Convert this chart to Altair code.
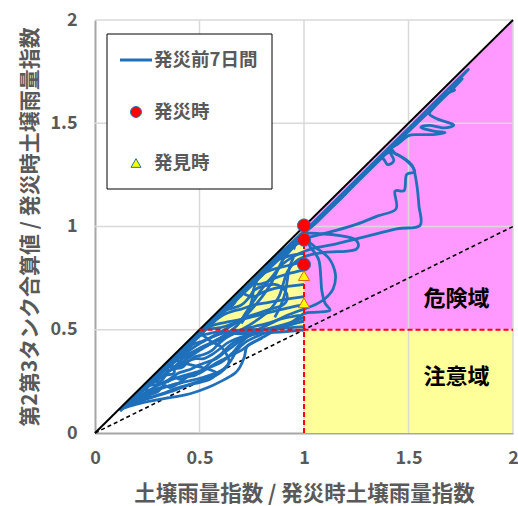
import altair as alt
import pandas as pd

FONT = "Noto Sans CJK JP"
GRAY = "#595959"
BLUE = "#1F70BA"

# ---- axis ticks ----
tick_values = [0, 0.5, 1, 1.5, 2]
grid_values = [0.5, 1, 1.5, 2]

# ---- reference lines ----
diag_x = [0, 2]
diag_y = [0, 2]
half_x = [0, 2]
half_y = [0, 1]

# ---- zones ----
danger_x = [1, 2]
danger_top = [1, 2]
danger_bottom = [0.5, 0.5]
caution_tri_x = [0.5, 1]
caution_tri_top = [0.5, 1]
caution_tri_bottom = [0.5, 0.5]

# ---- events ----
disaster_y = [1.005, 0.936, 0.816]
found_y = [0.762, 0.63]

# ---- 7-day trajectories (x = SWI ratio, y = tank2+3 ratio) ----
path_01 = [(0.12,0.11),(0.3,0.28),(0.5,0.475),(0.7,0.67),(0.9,0.865),(1.0,0.965),(1.2,1.16),(1.36,1.32),
           (1.41,1.36),(1.47,1.335),(1.52,1.29),(1.54,1.2),(1.55,1.1),(1.555,1.005),(1.45,0.99),(1.35,0.965),
           (1.25,0.94),(1.15,0.915),(1.05,0.895),(0.98,0.87),(0.9,0.82),(0.85,0.76),(0.8,0.70),(0.76,0.64),
           (0.72,0.58),(0.68,0.52),(0.6,0.46),(0.5,0.40),(0.4,0.33),(0.3,0.26),(0.2,0.18)]
path_02 = [(0.15,0.14),(0.4,0.38),(0.8,0.775),(1.1,1.07),(1.38,1.35),(1.44,1.35),(1.5,1.31),(1.53,1.265),
           (1.49,1.25),(1.48,1.175),(1.435,1.17),(1.44,1.085),(1.35,1.05),(1.25,1.01),(1.15,0.98),(1.05,0.955),
           (1.0,0.94),(0.95,0.90),(0.9,0.84),(0.87,0.78),(0.84,0.72),(0.8,0.66),(0.75,0.60),(0.7,0.55),
           (0.62,0.50),(0.55,0.46),(0.48,0.42),(0.4,0.36),(0.32,0.29),(0.25,0.23)]
path_03 = [(0.2,0.19),(0.6,0.58),(1.0,0.975),(1.4,1.375),(1.6,1.575),(1.78,1.755),(1.74,1.71),(1.70,1.67),
           (1.72,1.66),(1.68,1.64),(1.62,1.575),(1.60,1.545),(1.64,1.52),(1.70,1.50),(1.715,1.488),(1.67,1.478),
           (1.60,1.49),(1.56,1.48),(1.62,1.462),(1.675,1.455),(1.62,1.445),(1.55,1.445),(1.50,1.44),(1.45,1.40),
           (1.41,1.37),(1.43,1.32),(1.40,1.30),(1.37,1.33),(1.30,1.27),(1.2,1.16),(1.12,1.08),(1.05,1.01),(1.0,0.975)]
path_04 = [(0.25,0.24),(0.6,0.585),(0.95,0.93),(1.0,0.965),(1.08,0.965),(1.18,0.955),(1.24,0.94),(1.26,0.915),
           (1.25,0.89),(1.2,0.88),(1.1,0.875),(1.02,0.86),(0.96,0.83),(0.92,0.78),(0.90,0.72),(0.88,0.66),
           (0.84,0.60),(0.78,0.55),(0.7,0.50),(0.62,0.46),(0.55,0.43),(0.48,0.40),(0.42,0.37),(0.38,0.355)]
path_05 = [(0.3,0.29),(0.6,0.585),(0.9,0.875),(1.0,0.93),(1.06,0.895),(1.12,0.845),(1.15,0.77),(1.14,0.70),
           (1.10,0.65),(1.05,0.62),(1.0,0.60),(0.92,0.57),(0.84,0.53),(0.76,0.49),(0.70,0.44),(0.66,0.39),
           (0.6,0.34),(0.5,0.30),(0.4,0.27),(0.3,0.23),(0.2,0.17),(0.14,0.13)]
path_06 = [(0.35,0.335),(0.7,0.68),(0.98,0.95),(1.03,0.90),(1.07,0.84),(1.08,0.76),(1.085,0.69),(1.10,0.63),
           (1.124,0.594),(1.06,0.585),(1.0,0.578),(0.933,0.53),(0.87,0.50),(0.805,0.465),(0.76,0.44),(0.726,0.417),
           (0.715,0.37),(0.694,0.32),(0.67,0.29),(0.614,0.256),(0.54,0.22),(0.455,0.19),(0.38,0.175),(0.295,0.16),
           (0.2,0.14),(0.12,0.115)]
path_07 = [(0.15,0.14),(0.22,0.21),(0.3,0.285),(0.42,0.40),(0.5,0.48),(0.52,0.47),(0.56,0.44),(0.6,0.42),
           (0.63,0.38),(0.64,0.34),(0.6,0.30),(0.52,0.27),(0.44,0.25),(0.36,0.23),(0.28,0.20),(0.2,0.16),(0.14,0.135)]
path_08 = [(0.18,0.17),(0.26,0.25),(0.34,0.325),(0.38,0.35),(0.42,0.34),(0.46,0.33),(0.5,0.32),(0.54,0.31),
           (0.58,0.29),(0.55,0.26),(0.48,0.24),(0.40,0.22),(0.32,0.19),(0.24,0.165),(0.18,0.15)]
path_09 = [(0.2,0.19),(0.24,0.21),(0.26,0.19),(0.3,0.20),(0.33,0.23),(0.36,0.22),(0.40,0.24),(0.44,0.27),
           (0.48,0.28),(0.52,0.31),(0.56,0.35),(0.60,0.38),(0.64,0.42),(0.68,0.45),(0.72,0.47),(0.78,0.49),
           (0.85,0.51),(0.92,0.53),(1.0,0.56)]
path_10 = [(0.25,0.24),(0.28,0.25),(0.32,0.27),(0.35,0.30),(0.38,0.31),(0.42,0.32),(0.45,0.35),(0.48,0.37),
           (0.52,0.38),(0.56,0.40),(0.60,0.44),(0.64,0.47),(0.68,0.49),(0.74,0.51),(0.82,0.53),(0.9,0.555),(0.98,0.57)]
path_11 = [(0.3,0.29),(0.33,0.31),(0.36,0.305),(0.39,0.33),(0.42,0.36),(0.46,0.38),(0.5,0.41),(0.54,0.43),
           (0.58,0.45),(0.62,0.47),(0.66,0.48),(0.72,0.49),(0.8,0.50),(0.9,0.52),(1.0,0.54)]
path_12 = [(0.38,0.37),(0.41,0.38),(0.44,0.40),(0.47,0.43),(0.5,0.44),(0.55,0.46),(0.6,0.48),(0.66,0.495),
           (0.74,0.50),(0.84,0.505),(0.94,0.51),(1.0,0.515)]
path_13 = [(0.44,0.43),(0.47,0.445),(0.5,0.47),(0.54,0.48),(0.6,0.49),(0.7,0.48),(0.8,0.485),(0.9,0.49),(1.0,0.50)]
path_14 = [(0.13,0.12),(0.2,0.15),(0.28,0.175),(0.36,0.20),(0.44,0.23),(0.52,0.26),(0.58,0.28),(0.62,0.31),
           (0.65,0.35),(0.68,0.40),(0.72,0.44),(0.78,0.47),(0.86,0.50),(0.94,0.525),(1.0,0.545)]
path_15 = [(0.14,0.13),(0.17,0.15),(0.2,0.155),(0.24,0.17),(0.27,0.19),(0.25,0.21),(0.22,0.205),(0.2,0.185),(0.18,0.17)]
path_16 = [(0.22,0.21),(0.26,0.23),(0.3,0.235),(0.34,0.25),(0.37,0.27),(0.4,0.29),(0.43,0.30),(0.46,0.31),
           (0.5,0.33),(0.54,0.345),(0.58,0.36),(0.62,0.39),(0.66,0.42),(0.7,0.45),(0.76,0.48)]
path_17 = [(0.5,0.49),(0.56,0.52),(0.62,0.535),(0.7,0.55),(0.78,0.57),(0.86,0.59),(0.94,0.61),(1.0,0.62)]
path_18 = [(0.54,0.53),(0.58,0.55),(0.62,0.575),(0.66,0.59),(0.7,0.60),(0.76,0.62),(0.82,0.63),(0.9,0.645),(1.0,0.66)]
path_19 = [(0.58,0.57),(0.62,0.60),(0.66,0.62),(0.68,0.65),(0.70,0.68),(0.72,0.67),(0.76,0.66),(0.80,0.68),
           (0.86,0.70),(0.92,0.71),(1.0,0.72)]
path_20 = [(0.64,0.63),(0.68,0.66),(0.72,0.70),(0.75,0.73),(0.78,0.72),(0.82,0.73),(0.86,0.75),(0.92,0.77),(1.0,0.79)]
path_21 = [(0.7,0.69),(0.74,0.72),(0.78,0.76),(0.82,0.78),(0.86,0.795),(0.92,0.81),(1.0,0.83)]
path_22 = [(0.76,0.75),(0.8,0.78),(0.84,0.82),(0.88,0.84),(0.94,0.86),(1.0,0.87)]
path_23 = [(0.82,0.81),(0.86,0.85),(0.9,0.88),(0.95,0.91),(1.0,0.925)]
path_24 = [(0.7,0.53),(0.73,0.58),(0.75,0.64),(0.76,0.70),(0.78,0.75),(0.80,0.78)]
path_25 = [(0.86,0.56),(0.89,0.62),(0.91,0.68),(0.92,0.74),(0.93,0.80),(0.95,0.85)]
path_26 = [(0.6,0.59),(0.64,0.60),(0.7,0.62),(0.74,0.66),(0.76,0.69),(0.8,0.71),(0.86,0.72),(0.9,0.70),
           (0.92,0.66),(0.9,0.62),(0.84,0.60),(0.78,0.58),(0.72,0.56),(0.66,0.53),(0.6,0.51),(0.54,0.505)]
path_27 = [(0.88,0.87),(0.92,0.90),(0.96,0.93),(1.0,0.95)]
path_28 = [(0.12,0.105),(0.4,0.375),(0.8,0.77),(1.2,1.165),(1.5,1.46),(1.7,1.655),(1.76,1.72)]
path_29 = [(0.16,0.145),(0.5,0.47),(0.9,0.86),(0.95,0.89)]
path_30 = [(0.28,0.27),(0.31,0.24),(0.35,0.25),(0.38,0.27),(0.41,0.26),(0.45,0.28),(0.5,0.29),(0.55,0.32),
           (0.6,0.35),(0.64,0.37),(0.7,0.40),(0.74,0.43),(0.8,0.46)]
path_31 = [(0.34,0.33),(0.36,0.32),(0.4,0.32),(0.44,0.345),(0.48,0.36),(0.52,0.36),(0.56,0.38),(0.6,0.41),
           (0.64,0.44),(0.7,0.465),(0.78,0.48)]
path_32 = [(0.16,0.155),(0.19,0.165),(0.22,0.18),(0.26,0.20),(0.3,0.215),(0.34,0.225),(0.38,0.235),(0.42,0.245)]
path_33 = [(0.28,0.27),(0.29,0.25),(0.32,0.255),(0.34,0.28),(0.37,0.285),(0.38,0.30),(0.36,0.35)]

paths = [path_01, path_02, path_03, path_04, path_05, path_06, path_07, path_08, path_09,
         path_10, path_11, path_12, path_13, path_14, path_15, path_16, path_17, path_18,
         path_19, path_20, path_21, path_22, path_23, path_24, path_25, path_26, path_27,
         path_28, path_29, path_30, path_31, path_32, path_33]

rows = []
for i, p in enumerate(paths):
    for j, (px, py) in enumerate(p):
        rows.append({"series": i, "order": j, "x": px, "y": py})
traj = pd.DataFrame(rows)

# ---- legend ----
legend_labels = ["発災前7日間", "発災時", "発見時"]
legend_rows = [40, 92, 143]

W, H = 418, 413
xs = alt.Scale(domain=[0, 2], nice=False, zero=False)
ys = alt.Scale(domain=[0, 2], nice=False, zero=False)

xaxis = alt.Axis(values=tick_values, grid=False, ticks=False, format="~g",
                 labelFont=FONT, labelFontSize=18, labelFontWeight="bold", labelColor=GRAY,
                 labelPadding=16, labelFlush=False,
                 title="土壌雨量指数 / 発災時土壌雨量指数", titleFont=FONT, titleFontSize=21.5,
                 titleFontWeight="bold", titleColor=GRAY, titlePadding=16,
                 domainColor="#A6A6A6", domainWidth=2)
yaxis = alt.Axis(values=tick_values, grid=False, ticks=False, format="~g",
                 labelFont=FONT, labelFontSize=18, labelFontWeight="bold", labelColor=GRAY,
                 labelPadding=18, labelFlush=False,
                 title="第2第3タンク合算値 / 発災時土壌雨量指数", titleFont=FONT, titleFontSize=21,
                 titleFontWeight="bold", titleColor=GRAY, titlePadding=9,
                 domainColor="#A6A6A6", domainWidth=2)

caution_rect = alt.Chart(pd.DataFrame({"x": [1], "x2": [2], "y": [0], "y2": [0.5]})).mark_rect(
    color="#FFFF99").encode(
    x=alt.X("x:Q", scale=xs, axis=xaxis), x2="x2:Q",
    y=alt.Y("y:Q", scale=ys, axis=yaxis), y2="y2:Q")

danger = alt.Chart(pd.DataFrame({"x": danger_x, "y": danger_top, "y2": danger_bottom})).mark_area(
    color="#FF99FF", opacity=1).encode(x=alt.X("x:Q", scale=xs), y=alt.Y("y:Q", scale=ys), y2="y2:Q")

caution_tri = alt.Chart(pd.DataFrame({"x": caution_tri_x, "y": caution_tri_top, "y2": caution_tri_bottom})).mark_area(
    color="#FFFF99", opacity=1).encode(x=alt.X("x:Q", scale=xs), y=alt.Y("y:Q", scale=ys), y2="y2:Q")

vgrid = alt.Chart(pd.DataFrame({"v": grid_values})).mark_rule(color="#D9D9D9", strokeWidth=1.5).encode(
    x=alt.X("v:Q", scale=xs))
hgrid = alt.Chart(pd.DataFrame({"v": grid_values})).mark_rule(color="#D9D9D9", strokeWidth=1.5).encode(
    y=alt.Y("v:Q", scale=ys))

half = alt.Chart(pd.DataFrame({"x": half_x, "y": half_y})).mark_line(
    color="black", strokeWidth=1.6, strokeDash=[4, 3]).encode(x=alt.X("x:Q", scale=xs), y=alt.Y("y:Q", scale=ys))

lines = alt.Chart(traj).mark_line(color=BLUE, strokeWidth=2.8, interpolate="cardinal", clip=True).encode(
    x=alt.X("x:Q", scale=xs), y=alt.Y("y:Q", scale=ys), detail="series:N", order="order:Q")

diag = alt.Chart(pd.DataFrame({"x": diag_x, "y": diag_y})).mark_line(
    color="black", strokeWidth=2).encode(x=alt.X("x:Q", scale=xs), y=alt.Y("y:Q", scale=ys))

red_h = alt.Chart(pd.DataFrame({"x": [0.5], "x2": [2], "y": [0.5]})).mark_rule(
    color="#FF0000", strokeWidth=2, strokeDash=[5, 3]).encode(
    x=alt.X("x:Q", scale=xs), x2="x2:Q", y=alt.Y("y:Q", scale=ys))
red_v = alt.Chart(pd.DataFrame({"x": [1], "y": [0], "y2": [1]})).mark_rule(
    color="#FF0000", strokeWidth=2, strokeDash=[5, 3]).encode(
    x=alt.X("x:Q", scale=xs), y=alt.Y("y:Q", scale=ys), y2="y2:Q")

dis = alt.Chart(pd.DataFrame({"x": [1] * len(disaster_y), "y": disaster_y})).mark_point(
    shape="circle", filled=True, size=170, fill="#FF0000", stroke=BLUE, strokeWidth=1, opacity=1).encode(
    x=alt.X("x:Q", scale=xs), y=alt.Y("y:Q", scale=ys))
fnd = alt.Chart(pd.DataFrame({"x": [1] * len(found_y), "y": found_y})).mark_point(
    shape="triangle-up", filled=True, size=125, fill="#FFFF00", stroke="#E06020", strokeWidth=1, opacity=1).encode(
    x=alt.X("x:Q", scale=xs), y=alt.Y("y:Q", scale=ys))

zones = alt.Chart(pd.DataFrame({"x": [1.73, 1.73], "y": [0.65, 0.272], "t": ["危険域", "注意域"]})).mark_text(
    font=FONT, fontSize=22, fontWeight="bold", color="black").encode(
    x=alt.X("x:Q", scale=xs), y=alt.Y("y:Q", scale=ys), text="t:N")

# legend (drawn by hand, pixel positions inside plot area)
leg_df = pd.DataFrame({"a": [0]})
leg_box = alt.Chart(leg_df).mark_rect(fill="white", stroke="black", strokeWidth=1).encode(
    x=alt.value(12), x2=alt.value(177), y=alt.value(14), y2=alt.value(169))
leg_line = alt.Chart(leg_df).mark_rule(color=BLUE, strokeWidth=3).encode(
    x=alt.value(25), x2=alt.value(57), y=alt.value(40))
leg_dot = alt.Chart(leg_df).mark_point(shape="circle", filled=True, size=120, fill="#FF0000",
                                       stroke=BLUE, strokeWidth=1, opacity=1).encode(
    x=alt.value(41), y=alt.value(92))
leg_tri = alt.Chart(leg_df).mark_point(shape="triangle-up", filled=True, size=100, fill="#FFFF00",
                                       stroke=BLUE, strokeWidth=1, opacity=1).encode(
    x=alt.value(41), y=alt.value(143))
leg_text = alt.Chart(pd.DataFrame({"t": legend_labels, "py": legend_rows})).mark_text(
    font=FONT, fontSize=18.5, fontWeight="bold", color=GRAY, align="left", baseline="middle").encode(
    x=alt.value(59), y=alt.Y("py:Q", scale=None, axis=None), text="t:N")

chart = alt.layer(caution_rect, danger, caution_tri, vgrid, hgrid, half, lines, diag, red_h, red_v,
                  dis, fnd, zones, leg_box, leg_line, leg_dot, leg_tri, leg_text).properties(
    width=W, height=H,
    autosize=alt.AutoSizeParams(type="none"),
    padding={"left": 95, "top": 20, "right": 5, "bottom": 73},
    background="white",
).configure_view(stroke=None)

chart.save("out.html", embed_options={"renderer": "svg", "actions": False})
